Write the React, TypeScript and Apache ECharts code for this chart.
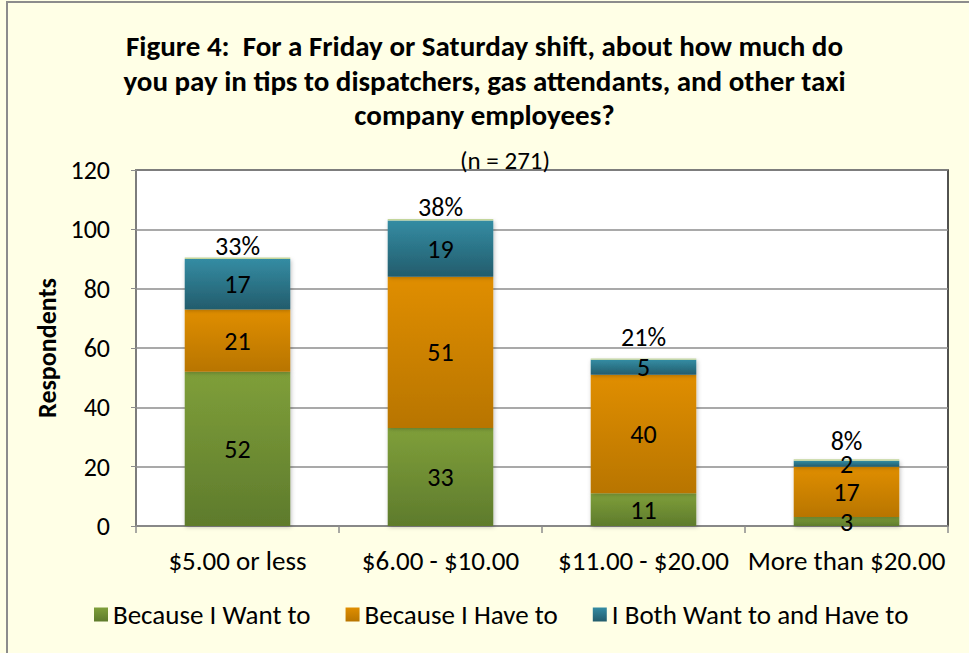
import React, { useEffect, useRef } from "react";
import * as echarts from "echarts";

const categories = ["$5.00 or less", "$6.00 - $10.00", "$11.00 - $20.00", "More than $20.00"];
const wantTo = [52, 33, 11, 3];
const haveTo = [21, 51, 40, 17];
const both = [17, 19, 5, 2];
const percentLabels = ["33%", "38%", "21%", "8%"];
const percentLabelGap = [-1, -1, 8, 5];
const yTicks = { min: 0, max: 120, interval: 20 };

const FONT = "Carlito, Lato, 'Open Sans', sans-serif";

function grad(top: string, bottom: string) {
  return new echarts.graphic.LinearGradient(0, 0, 0, 1, [
    { offset: 0, color: top },
    { offset: 1, color: bottom },
  ]);
}

export default function App() {
  const ref = useRef<HTMLDivElement>(null);
  useEffect(() => {
    if (!ref.current) return;
    const chart = echarts.init(ref.current, undefined, { renderer: "svg" });
    const labelStyle = {
      show: true,
      position: "inside" as const,
      fontSize: 26,
      color: "#000",
      fontFamily: FONT,
    };
    const shadow = { shadowBlur: 4, shadowColor: "rgba(0,0,0,0.25)", shadowOffsetX: 1, shadowOffsetY: 1 };
    const barCommon = {
      type: "bar" as const,
      stack: "total",
      barWidth: "52%",
      label: labelStyle,
    };
    chart.setOption({
      animation: false,
      backgroundColor: "#FFFFE6",
      textStyle: { fontFamily: FONT },
      title: [
        {
          text: "Figure 4:  For a Friday or Saturday shift, about how much do\nyou pay in tips to dispatchers, gas attendants, and other taxi\ncompany employees?",
          left: "center",
          top: 24,
          textStyle: {
            fontSize: 29,
            fontWeight: "bold",
            lineHeight: 34.5,
            color: "#000",
            fontFamily: FONT,
          },
        },
        {
          text: "(n = 271)",
          left: 455,
          top: 143,
          textStyle: { fontSize: 25, fontWeight: "normal", color: "#000", fontFamily: FONT },
        },
      ],
      graphic: [
        {
          type: "rect",
          shape: { x: 7, y: 2, width: 980, height: 670 },
          style: { fill: "none", stroke: "#8C8C8C", lineWidth: 2 },
          silent: true,
          z: 100,
        },
      ],
      legend: {
        data: ["Because I Want to", "Because I Have to", "I Both Want to and Have to"],
        left: 89,
        top: 596,
        itemWidth: 14,
        itemHeight: 14,
        itemGap: 35,
        icon: "rect",
        textStyle: { fontSize: 27, color: "#000", fontFamily: FONT },
      },
      grid: {
        left: 136,
        right: 21,
        top: 170,
        bottom: 127,
        show: true,
        backgroundColor: "#FFFFFF",
        borderColor: "#1a1a1a",
        borderWidth: 1.5,
      },
      xAxis: {
        type: "category",
        data: categories,
        axisLine: { show: true, lineStyle: { color: "#8C8C8C", width: 1.5 } },
        axisTick: { show: true, length: 7, lineStyle: { color: "#8C8C8C", width: 1.5 } },
        axisLabel: { fontSize: 27, color: "#000", margin: 21, fontFamily: FONT, interval: 0, hideOverlap: false },
      },
      yAxis: {
        type: "value",
        min: yTicks.min,
        max: yTicks.max,
        interval: yTicks.interval,
        name: "Respondents",
        nameLocation: "middle",
        nameRotate: 90,
        nameGap: 75,
        nameTextStyle: { fontSize: 26, fontWeight: "bold", color: "#000", fontFamily: FONT },
        axisLine: { show: true, lineStyle: { color: "#8C8C8C", width: 1.5 } },
        axisTick: { show: true, length: 5, lineStyle: { color: "#8C8C8C" } },
        axisLabel: { fontSize: 26, color: "#000", margin: 26, fontFamily: FONT },
        splitLine: { show: true, lineStyle: { color: "#8C8C8C", width: 1.5 } },
      },
      series: [
        {
          ...barCommon,
          name: "Because I Want to",
          data: wantTo,
          itemStyle: { color: grad("#7F9F3A", "#5E7B2C"), ...shadow },
        },
        {
          ...barCommon,
          name: "Because I Have to",
          data: haveTo,
          itemStyle: { color: grad("#E08E00", "#B87500"), ...shadow },
        },
        {
          ...barCommon,
          name: "I Both Want to and Have to",
          data: both,
          itemStyle: { color: grad("#348CA3", "#235C6C"), ...shadow },
        },
        {
          type: "bar",
          stack: "total",
          barWidth: "52%",
          name: "Total",
          data: categories.map((_, i) => ({
            value: 0.5,
            label: { distance: percentLabelGap[i] },
          })),
          itemStyle: { color: "#C3D69B" },
          label: {
            show: true,
            position: "top",
            fontSize: 26,
            color: "#000",
            fontFamily: FONT,
            formatter: (p: any) => percentLabels[p.dataIndex],
          },
        },
      ],
    });
    return () => chart.dispose();
  }, []);
  return (
    <div
      ref={ref}
      style={{ position: "fixed", left: 0, top: 0, width: 969, height: 653 }}
    />
  );
}
